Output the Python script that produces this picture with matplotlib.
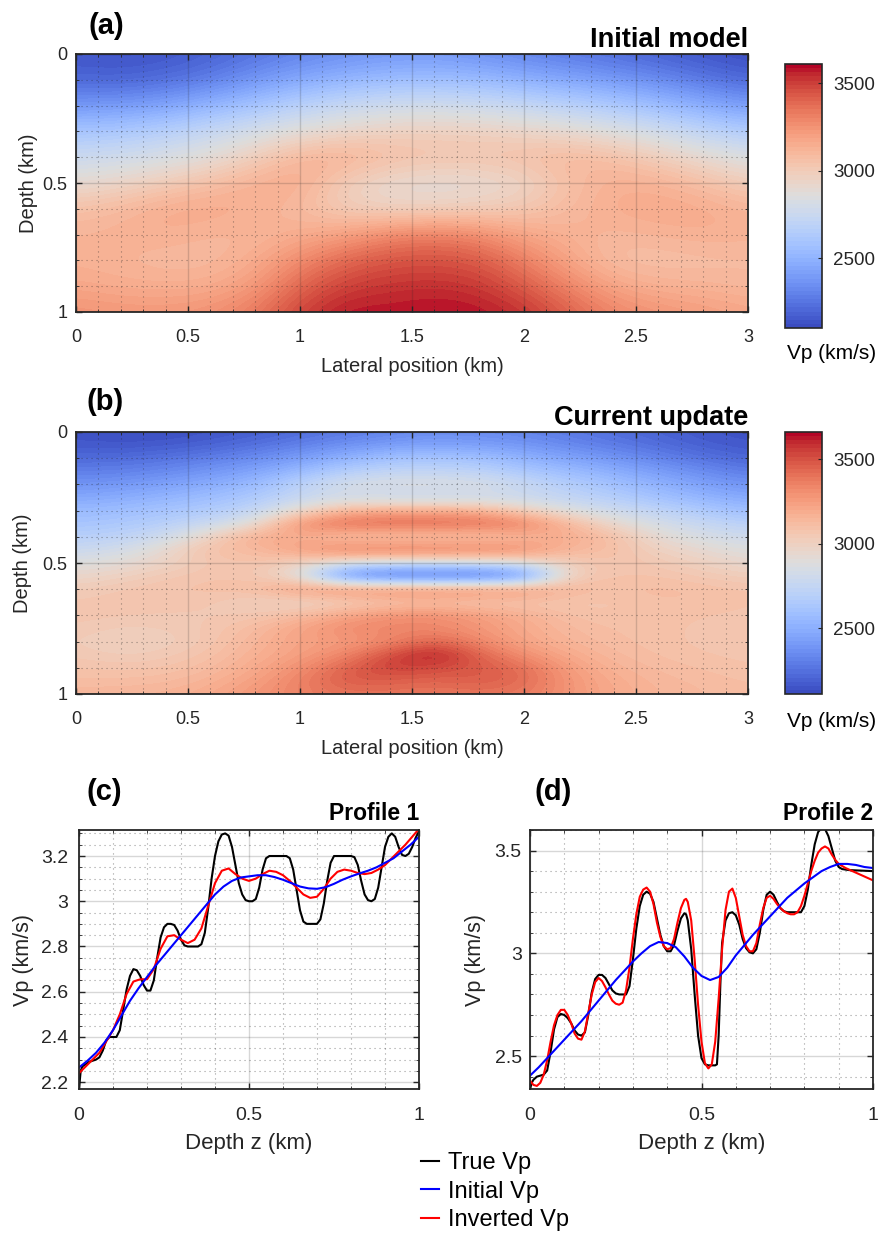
import numpy as np
import matplotlib
matplotlib.use("Agg")
import matplotlib.pyplot as plt
from matplotlib.ticker import MultipleLocator, FixedLocator, FuncFormatter
from matplotlib.lines import Line2D

plt.rcParams['font.family'] = ['Liberation Sans', 'DejaVu Sans']

# ---------------- data ----------------
# Panel (a): initial model, Vp (m/s); rows = depth 0..1 km step 0.1, cols = lateral 0..3 km step 0.2
init_x = [0.0, 0.2, 0.4, 0.6, 0.8, 1.0, 1.2, 1.4, 1.6, 1.8, 2.0, 2.2, 2.4, 2.6, 2.8, 3.0]
init_z = [0.0, 0.1, 0.2, 0.3, 0.4, 0.5, 0.6, 0.7, 0.8, 0.9, 1.0]
init_vp = [
    [2140, 2130, 2140, 2180, 2240, 2300, 2340, 2370, 2380, 2350, 2300, 2260, 2220, 2180, 2140, 2110],
    [2200, 2190, 2220, 2280, 2370, 2450, 2510, 2550, 2560, 2540, 2490, 2440, 2390, 2330, 2260, 2200],
    [2380, 2390, 2430, 2510, 2590, 2680, 2740, 2780, 2790, 2770, 2730, 2680, 2620, 2550, 2470, 2400],
    [2600, 2620, 2670, 2740, 2810, 2880, 2930, 2970, 2980, 2970, 2950, 2910, 2860, 2790, 2710, 2640],
    [2760, 2780, 2820, 2880, 2990, 3120, 3150, 3080, 3050, 3050, 3070, 3110, 3070, 2990, 2910, 2840],
    [2900, 2940, 3000, 3070, 3140, 3160, 2980, 2900, 2880, 2890, 2930, 3060, 3140, 3130, 3070, 2990],
    [3060, 3100, 3160, 3170, 3140, 3080, 2990, 2950, 2960, 2980, 3020, 3090, 3150, 3170, 3160, 3120],
    [3120, 3130, 3140, 3110, 3100, 3150, 3200, 3300, 3330, 3290, 3180, 3130, 3100, 3120, 3140, 3130],
    [3130, 3110, 3090, 3090, 3150, 3280, 3400, 3450, 3460, 3440, 3320, 3180, 3070, 3060, 3070, 3080],
    [3170, 3150, 3140, 3150, 3220, 3400, 3500, 3530, 3540, 3520, 3430, 3300, 3180, 3130, 3120, 3100],
    [3260, 3240, 3240, 3260, 3340, 3500, 3590, 3580, 3600, 3590, 3540, 3420, 3300, 3250, 3220, 3180],
]
init_clim = [2100, 3610]

# Panel (b): current update, Vp (m/s); rows = depth 0..1 km step 0.05, cols = lateral 0..3 km step 0.2
upd_x = [0.0, 0.2, 0.4, 0.6, 0.8, 1.0, 1.2, 1.4, 1.6, 1.8, 2.0, 2.2, 2.4, 2.6, 2.8, 3.0]
upd_z = [0.0, 0.05, 0.1, 0.15, 0.2, 0.25, 0.3, 0.35, 0.4, 0.45, 0.5,
         0.55, 0.6, 0.65, 0.7, 0.75, 0.8, 0.85, 0.9, 0.95, 1.0]
upd_vp = [
    [2140, 2130, 2130, 2150, 2180, 2230, 2280, 2320, 2350, 2340, 2320, 2280, 2240, 2200, 2160, 2140],
    [2170, 2160, 2170, 2200, 2250, 2310, 2370, 2420, 2450, 2430, 2400, 2340, 2290, 2240, 2190, 2160],
    [2230, 2230, 2260, 2300, 2350, 2420, 2520, 2600, 2620, 2600, 2520, 2450, 2390, 2320, 2260, 2210],
    [2300, 2310, 2340, 2390, 2450, 2560, 2680, 2740, 2740, 2720, 2640, 2570, 2500, 2420, 2350, 2290],
    [2380, 2400, 2440, 2490, 2560, 2720, 2850, 2880, 2880, 2870, 2780, 2680, 2600, 2520, 2440, 2380],
    [2470, 2490, 2530, 2580, 2650, 2760, 2800, 2770, 2760, 2780, 2780, 2740, 2680, 2600, 2530, 2470],
    [2560, 2580, 2620, 2660, 2740, 2950, 3150, 3200, 3200, 3180, 3020, 2880, 2800, 2730, 2650, 2580],
    [2620, 2640, 2690, 2780, 2920, 3320, 3450, 3460, 3460, 3440, 3380, 3150, 2950, 2840, 2760, 2700],
    [2690, 2720, 2800, 3000, 3200, 3180, 3060, 3050, 3050, 3060, 3120, 3200, 3100, 2930, 2850, 2800],
    [2780, 2820, 2950, 3100, 3120, 3250, 3380, 3400, 3400, 3380, 3330, 3150, 3100, 3000, 2940, 2880],
    [2880, 2920, 2980, 3060, 3080, 3000, 2860, 2820, 2820, 2830, 2880, 3020, 3080, 3050, 3000, 2950],
    [2960, 3000, 3050, 3080, 3060, 2900, 2280, 2180, 2150, 2180, 2300, 3020, 3080, 3080, 3050, 3020],
    [3030, 3060, 3080, 3090, 3110, 3280, 3340, 3350, 3350, 3330, 3300, 3150, 3100, 3120, 3100, 3080],
    [3060, 3070, 3070, 3060, 3000, 2960, 3000, 3060, 3080, 3060, 3060, 3060, 3070, 3100, 3100, 3080],
    [3070, 3060, 3050, 3050, 3060, 3120, 3230, 3300, 3320, 3260, 3180, 3100, 3080, 3090, 3080, 3070],
    [3050, 3020, 3030, 3060, 3120, 3230, 3320, 3340, 3330, 3280, 3200, 3130, 3100, 3090, 3070, 3060],
    [3030, 3000, 3010, 3060, 3150, 3230, 3250, 3320, 3450, 3330, 3220, 3150, 3110, 3090, 3070, 3060],
    [3050, 3020, 3040, 3090, 3170, 3240, 3330, 3520, 3660, 3450, 3300, 3200, 3130, 3100, 3080, 3070],
    [3080, 3070, 3080, 3120, 3200, 3300, 3450, 3560, 3520, 3480, 3420, 3250, 3160, 3120, 3100, 3080],
    [3110, 3110, 3120, 3160, 3240, 3350, 3480, 3460, 3440, 3470, 3430, 3280, 3190, 3140, 3120, 3100],
    [3150, 3150, 3160, 3200, 3280, 3350, 3400, 3400, 3380, 3400, 3380, 3280, 3200, 3150, 3130, 3110],
]
upd_clim = [2110, 3660]

cbar_ticks = [2500, 3000, 3500]

# Panel (c): Profile 1 (depth km, Vp km/s)
p1_true_z = [0.000, 0.005, 0.01, 0.02, 0.03, 0.04, 0.05, 0.06, 0.07, 0.08, 0.09, 0.10, 0.11, 0.12,
             0.13, 0.14, 0.15, 0.16, 0.17, 0.18, 0.19, 0.20, 0.21, 0.22, 0.23, 0.24, 0.25, 0.26,
             0.27, 0.28, 0.29, 0.30, 0.31, 0.32, 0.33, 0.34, 0.35, 0.36, 0.37, 0.38, 0.39, 0.40,
             0.41, 0.42, 0.43, 0.44, 0.45, 0.46, 0.47, 0.48, 0.49, 0.50, 0.51, 0.52, 0.53, 0.54,
             0.55, 0.56, 0.57, 0.58, 0.59, 0.60, 0.61, 0.62, 0.63, 0.64, 0.65, 0.66, 0.67, 0.68,
             0.69, 0.70, 0.71, 0.72, 0.73, 0.74, 0.75, 0.76, 0.77, 0.78, 0.79, 0.80, 0.81, 0.82,
             0.83, 0.84, 0.85, 0.86, 0.87, 0.88, 0.89, 0.90, 0.91, 0.92, 0.93, 0.94, 0.95, 0.96,
             0.97, 0.98, 0.99, 1.00]
p1_true_v = [2.17, 2.25, 2.27, 2.28, 2.29, 2.295, 2.30, 2.31, 2.34, 2.385, 2.40, 2.40, 2.40, 2.43,
             2.52, 2.61, 2.67, 2.70, 2.695, 2.67, 2.63, 2.605, 2.605, 2.65, 2.75, 2.84, 2.885, 2.90,
             2.90, 2.895, 2.87, 2.83, 2.805, 2.80, 2.80, 2.80, 2.80, 2.81, 2.86, 2.97, 3.10, 3.20,
             3.265, 3.295, 3.30, 3.29, 3.24, 3.16, 3.08, 3.03, 3.005, 3.00, 3.00, 3.01, 3.06, 3.14,
             3.19, 3.20, 3.20, 3.20, 3.20, 3.20, 3.20, 3.19, 3.14, 3.05, 2.96, 2.91, 2.90, 2.90,
             2.90, 2.90, 2.92, 2.99, 3.09, 3.17, 3.20, 3.20, 3.20, 3.20, 3.20, 3.20, 3.195, 3.16,
             3.09, 3.03, 3.005, 3.00, 3.01, 3.06, 3.15, 3.24, 3.285, 3.30, 3.285, 3.24, 3.205, 3.20,
             3.21, 3.24, 3.28, 3.31]
p1_init_z = [0.000, 0.025, 0.05, 0.075, 0.10, 0.125, 0.15, 0.175, 0.20, 0.225, 0.25, 0.275, 0.30,
             0.325, 0.35, 0.375, 0.40, 0.425, 0.45, 0.475, 0.50, 0.525, 0.55, 0.575, 0.60, 0.625,
             0.65, 0.675, 0.70, 0.725, 0.75, 0.775, 0.80, 0.825, 0.85, 0.875, 0.90, 0.925, 0.95,
             0.975, 1.00]
p1_init_v = [2.265, 2.295, 2.33, 2.375, 2.43, 2.495, 2.56, 2.615, 2.665, 2.715, 2.76, 2.805, 2.85,
             2.895, 2.94, 2.985, 3.03, 3.065, 3.09, 3.105, 3.11, 3.115, 3.115, 3.107, 3.095, 3.08,
             3.065, 3.057, 3.055, 3.062, 3.077, 3.095, 3.11, 3.123, 3.135, 3.15, 3.17, 3.19, 3.22,
             3.25, 3.285]
p1_inv_z = [0.00, 0.02, 0.04, 0.06, 0.08, 0.10, 0.12, 0.14, 0.16, 0.18, 0.20, 0.22, 0.24, 0.26,
            0.28, 0.30, 0.32, 0.34, 0.36, 0.38, 0.40, 0.42, 0.44, 0.46, 0.48, 0.50, 0.52, 0.54,
            0.56, 0.58, 0.60, 0.62, 0.64, 0.66, 0.68, 0.70, 0.72, 0.74, 0.76, 0.78, 0.80, 0.82,
            0.84, 0.86, 0.88, 0.90, 0.92, 0.94, 0.96, 0.98, 1.00]
p1_inv_v = [2.24, 2.27, 2.30, 2.33, 2.38, 2.43, 2.50, 2.59, 2.645, 2.655, 2.655, 2.70, 2.79, 2.845,
            2.85, 2.83, 2.815, 2.83, 2.88, 2.98, 3.08, 3.135, 3.145, 3.12, 3.10, 3.09, 3.10, 3.12,
            3.135, 3.13, 3.115, 3.09, 3.06, 3.03, 3.015, 3.02, 3.055, 3.10, 3.13, 3.14, 3.135, 3.125,
            3.12, 3.125, 3.14, 3.16, 3.19, 3.22, 3.25, 3.285, 3.32]

# Panel (d): Profile 2
p2_true_z = [0.000, 0.005, 0.01, 0.02, 0.03, 0.04, 0.05, 0.06, 0.07, 0.08, 0.09, 0.10, 0.11, 0.12,
             0.13, 0.14, 0.15, 0.16, 0.17, 0.18, 0.19, 0.20, 0.21, 0.22, 0.23, 0.24, 0.25, 0.26,
             0.27, 0.28, 0.29, 0.30, 0.31, 0.32, 0.33, 0.34, 0.35, 0.36, 0.37, 0.38, 0.39, 0.40,
             0.41, 0.42, 0.43, 0.44, 0.45, 0.455, 0.46, 0.47, 0.48, 0.49, 0.50, 0.51, 0.52, 0.53,
             0.54, 0.545, 0.55, 0.555, 0.56, 0.57, 0.58, 0.59, 0.60, 0.61, 0.62, 0.63, 0.64, 0.65,
             0.66, 0.67, 0.68, 0.69, 0.70, 0.71, 0.72, 0.73, 0.74, 0.75, 0.77, 0.79, 0.80, 0.81,
             0.82, 0.83, 0.84, 0.85, 0.86, 0.87, 0.88, 0.89, 0.90, 0.91, 0.93, 1.00]
p2_true_v = [2.34, 2.37, 2.385, 2.40, 2.405, 2.41, 2.43, 2.52, 2.63, 2.69, 2.705, 2.70, 2.685, 2.66,
             2.625, 2.605, 2.60, 2.615, 2.70, 2.81, 2.875, 2.895, 2.895, 2.88, 2.85, 2.82, 2.805, 2.80,
             2.80, 2.80, 2.84, 2.97, 3.12, 3.23, 3.285, 3.30, 3.29, 3.25, 3.17, 3.09, 3.035, 3.01,
             3.01, 3.04, 3.11, 3.17, 3.195, 3.19, 3.16, 3.02, 2.80, 2.60, 2.49, 2.46, 2.455, 2.455,
             2.455, 2.46, 2.60, 2.85, 3.05, 3.16, 3.195, 3.20, 3.185, 3.14, 3.07, 3.025, 3.005, 3.00,
             3.02, 3.10, 3.21, 3.285, 3.30, 3.285, 3.25, 3.22, 3.205, 3.20, 3.20, 3.20, 3.23, 3.31,
             3.43, 3.53, 3.59, 3.61, 3.605, 3.57, 3.51, 3.45, 3.42, 3.41, 3.405, 3.40]
p2_init_z = [0.000, 0.025, 0.05, 0.075, 0.10, 0.125, 0.15, 0.175, 0.20, 0.225, 0.25, 0.275, 0.30,
             0.325, 0.35, 0.375, 0.40, 0.425, 0.45, 0.475, 0.50, 0.525, 0.55, 0.575, 0.60, 0.625,
             0.65, 0.675, 0.70, 0.725, 0.75, 0.775, 0.80, 0.825, 0.85, 0.875, 0.90, 0.925, 0.95,
             0.975, 1.00]
p2_init_v = [2.405, 2.445, 2.49, 2.535, 2.58, 2.625, 2.67, 2.72, 2.77, 2.82, 2.87, 2.915, 2.96,
             3.00, 3.035, 3.055, 3.05, 3.03, 2.985, 2.93, 2.89, 2.87, 2.885, 2.93, 2.99, 3.04,
             3.09, 3.135, 3.18, 3.225, 3.27, 3.305, 3.34, 3.37, 3.40, 3.42, 3.435, 3.435, 3.43,
             3.42, 3.415]
p2_inv_z = [0.00, 0.01, 0.02, 0.03, 0.04, 0.05, 0.06, 0.07, 0.08, 0.09, 0.10, 0.11, 0.12, 0.13,
            0.14, 0.15, 0.16, 0.17, 0.18, 0.19, 0.20, 0.21, 0.22, 0.23, 0.24, 0.25, 0.26, 0.27,
            0.28, 0.29, 0.30, 0.31, 0.32, 0.33, 0.34, 0.35, 0.36, 0.37, 0.38, 0.39, 0.40, 0.41,
            0.42, 0.43, 0.44, 0.45, 0.455, 0.46, 0.47, 0.48, 0.49, 0.50, 0.51, 0.52, 0.53, 0.54,
            0.55, 0.56, 0.57, 0.58, 0.59, 0.60, 0.61, 0.62, 0.63, 0.64, 0.65, 0.66, 0.67, 0.68,
            0.69, 0.70, 0.71, 0.72, 0.73, 0.74, 0.75, 0.76, 0.77, 0.78, 0.79, 0.80, 0.81, 0.82,
            0.83, 0.84, 0.85, 0.86, 0.87, 0.88, 0.89, 0.90, 0.92, 0.94, 0.96, 0.98, 1.00]
p2_inv_v = [2.38, 2.36, 2.355, 2.37, 2.41, 2.48, 2.57, 2.65, 2.70, 2.725, 2.725, 2.70, 2.66, 2.61,
            2.585, 2.58, 2.62, 2.71, 2.80, 2.86, 2.88, 2.865, 2.835, 2.80, 2.77, 2.755, 2.75, 2.76,
            2.82, 2.93, 3.07, 3.19, 3.275, 3.31, 3.32, 3.30, 3.24, 3.15, 3.08, 3.035, 3.02, 3.025,
            3.07, 3.15, 3.22, 3.26, 3.265, 3.25, 3.16, 2.97, 2.75, 2.57, 2.465, 2.44, 2.46, 2.57,
            2.78, 3.02, 3.21, 3.30, 3.315, 3.27, 3.18, 3.09, 3.035, 3.01, 3.01, 3.05, 3.14, 3.22,
            3.27, 3.28, 3.265, 3.24, 3.22, 3.205, 3.195, 3.19, 3.19, 3.20, 3.23, 3.28, 3.34, 3.40,
            3.45, 3.49, 3.51, 3.52, 3.51, 3.48, 3.455, 3.435, 3.415, 3.40, 3.385, 3.37, 3.355]

legend_labels = ['True Vp', 'Initial Vp', 'Inverted Vp']

# ---------------- layout ----------------
W, H = 883, 1235
fig = plt.figure(figsize=(W / 100, H / 100), dpi=100)


def fbox(l, t, r, b):
    return [l / W, 1 - b / H, (r - l) / W, (b - t) / H]


TXT = '#262626'
cmap = plt.get_cmap('coolwarm').resampled(64)
fmt = FuncFormatter(lambda v, p: f'{v:g}')


def style_axes(ax, tick_fs, ypad, xpad):
    for s in ax.spines.values():
        s.set_linewidth(1.3)
        s.set_color(TXT)
        s.set_zorder(5)
    ax.tick_params(which='both', direction='in', top=True, right=True, colors=TXT,
                   labelcolor=TXT, labelsize=tick_fs)
    ax.tick_params(which='major', length=4, width=1.0)
    ax.tick_params(which='minor', length=2, width=0.6)
    ax.tick_params(axis='y', which='major', pad=ypad)
    ax.tick_params(axis='x', which='major', pad=xpad)
    ax.xaxis.set_major_formatter(fmt)
    ax.yaxis.set_major_formatter(fmt)
    ax.set_axisbelow(False)
    ax.grid(True, which='major', color=TXT, alpha=0.18, linewidth=1.0, linestyle='-')
    ax.grid(True, which='minor', color=TXT, alpha=0.45, linewidth=0.8, linestyle=(0, (1, 3.5)))


def model_panel(box, cbox, data, xs, zs, clim, title, letter, letter_xy, ylab_x, cbar_label_y):
    ax = fig.add_axes(fbox(*box))
    dx = xs[1] - xs[0]
    dz = zs[1] - zs[0]
    im = ax.imshow(np.array(data, dtype=float), cmap=cmap, vmin=clim[0], vmax=clim[1],
                   extent=[xs[0] - dx / 2, xs[-1] + dx / 2, zs[-1] + dz / 2, zs[0] - dz / 2],
                   aspect='auto', interpolation='bicubic')
    ax.set_xlim(0, 3)
    ax.set_ylim(1, 0)
    ax.xaxis.set_major_locator(MultipleLocator(0.5))
    ax.xaxis.set_minor_locator(MultipleLocator(0.1))
    ax.yaxis.set_major_locator(MultipleLocator(0.5))
    ax.yaxis.set_minor_locator(MultipleLocator(0.1))
    style_axes(ax, 13, 6, 12)
    ax.set_xlabel('Lateral position (km)', fontsize=14.5, color=TXT, va='center')
    ax.xaxis.set_label_coords(0.5, -55 / (box[3] - box[1]))
    ax.set_ylabel('Depth (km)', fontsize=14.5, color=TXT, va='center')
    ax.yaxis.set_label_coords(-(box[0] - ylab_x) / (box[2] - box[0]), 0.5)
    ax.annotate(title, xy=(1, 1), xycoords='axes fraction', xytext=(0, 7),
                textcoords='offset pixels', ha='right', va='baseline',
                fontsize=19.5, fontweight='bold', color='black')
    fig.text(letter_xy[0] / W, 1 - letter_xy[1] / H, letter, fontsize=21, fontweight='bold',
             ha='left', va='center')
    cax = fig.add_axes(fbox(*cbox))
    cb = fig.colorbar(im, cax=cax, ticks=cbar_ticks)
    cb.outline.set_linewidth(1.2)
    cb.outline.set_edgecolor(TXT)
    cax.tick_params(direction='in', length=3, width=0.8, right=True, left=False,
                    labelsize=13.5, colors=TXT, labelcolor=TXT, pad=8)
    fig.text(832 / W, 1 - cbar_label_y / H, 'Vp (km/s)', fontsize=15, ha='center',
             va='center', color='black')
    return ax


model_panel((76, 54, 748, 312), (785, 64, 822, 328), init_vp, init_x, init_z, init_clim,
            'Initial model', '(a)', (88, 26), 28, 354)
model_panel((76, 432, 748, 694), (785, 432, 822, 694), upd_vp, upd_x, upd_z, upd_clim,
            'Current update', '(b)', (86, 402), 22, 721)


def profile_panel(box, tz, tv, iz, iv, vz, vv, ylim, ymaj, ymin, title, letter, letter_xy,
                  ylab_x, ypad):
    ax = fig.add_axes(fbox(*box))
    ax.plot(tz, tv, color='black', lw=1.5, zorder=3)
    ax.plot(vz, vv, color='#ff0000', lw=1.5, zorder=3)
    ax.plot(iz, iv, color='#0000ff', lw=1.5, zorder=4)
    ax.set_xlim(0, 1)
    ax.set_ylim(*ylim)
    ax.xaxis.set_major_locator(MultipleLocator(0.5))
    ax.xaxis.set_minor_locator(MultipleLocator(0.1))
    ax.yaxis.set_major_locator(FixedLocator(ymaj))
    ax.yaxis.set_minor_locator(MultipleLocator(ymin))
    style_axes(ax, 14, ypad, 13)
    ax.set_xlabel('Depth z (km)', fontsize=16, color=TXT, va='center')
    ax.xaxis.set_label_coords(0.5, -54 / (box[3] - box[1]))
    ax.set_ylabel('Vp (km/s)', fontsize=15.5, color=TXT, va='center')
    ax.yaxis.set_label_coords(-(box[0] - ylab_x) / (box[2] - box[0]), 0.5)
    ax.annotate(title, xy=(1, 1), xycoords='axes fraction', xytext=(0, 10),
                textcoords='offset pixels', ha='right', va='baseline',
                fontsize=16.5, fontweight='bold', color='black')
    fig.text(letter_xy[0] / W, 1 - letter_xy[1] / H, letter, fontsize=21, fontweight='bold',
             ha='left', va='center')
    return ax


profile_panel((79, 830, 419, 1089), p1_true_z, p1_true_v, p1_init_z, p1_init_v, p1_inv_z,
              p1_inv_v, (2.17, 3.315), [2.2, 2.4, 2.6, 2.8, 3.0, 3.2], 0.05, 'Profile 1', '(c)',
              (87, 792), 23, 8)
profile_panel((530, 830, 873, 1089), p2_true_z, p2_true_v, p2_init_z, p2_init_v, p2_inv_z,
              p2_inv_v, (2.34, 3.60), [2.5, 3.0, 3.5], 0.1, 'Profile 2', '(d)',
              (535, 792), 476, 6)

handles = [Line2D([], [], color='black', lw=1.5),
           Line2D([], [], color='#0000ff', lw=1.5),
           Line2D([], [], color='#ff0000', lw=1.5)]
fig.legend(handles, legend_labels, loc='upper left', bbox_to_anchor=(421 / W, 1 - 1152 / H),
           frameon=False, fontsize=17, handlelength=0.75, handletextpad=0.4,
           labelspacing=0.28, borderpad=0, borderaxespad=0)

fig.savefig('out.png', dpi=100)
